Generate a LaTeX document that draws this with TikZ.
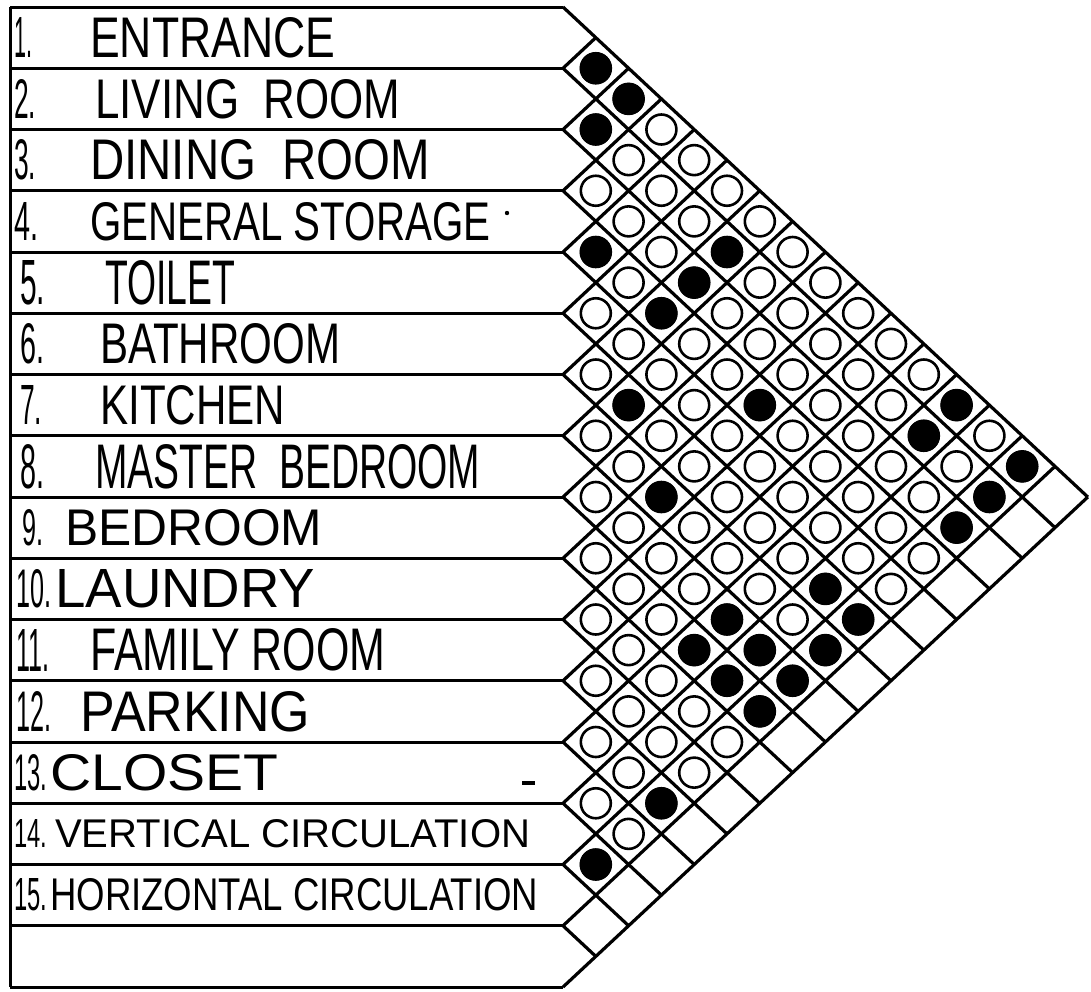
\documentclass[tikz,border=0pt]{standalone}
\usepackage{fontspec}
\setmainfont{Liberation Sans}
\usepackage{graphicx}

% squeeze a label into the box it takes in the drawing
\newcommand{\hand}[3]{\resizebox{#1pt}{#2pt}{#3}}

\begin{document}
\begin{tikzpicture}[x=1pt, y=-1pt, line join=round,
    rowline/.style={line width=3pt},
    gridline/.style={line width=3.2pt},
    opencell/.style={circle, draw, line width=2.6pt, minimum size=30pt, inner sep=0pt},
    fullcell/.style={circle, fill, minimum size=32pt, inner sep=0pt},
    lbl/.style={anchor=west, inner sep=0pt}]
    \useasboundingbox (0,0) rectangle (1091,991);

    \def\xo{563}
    \def\ytop{7}
    \def\rh{61.25}
    \def\cw{32.8}

    % row ends and the diagonal grid
    \foreach \k in {0,...,16} {
        \coordinate (w\k) at (10, \ytop+\k*\rh);
        \coordinate (s\k) at (\xo, \ytop+\k*\rh);
        \coordinate (dn\k) at (\xo+16*\cw-\k*\cw, \ytop+8*\rh+\k*\rh/2);
        \coordinate (up\k) at (\xo+\k*\cw, \ytop+\k*\rh/2);
        \draw[rowline] (w\k) -- (s\k);
        \draw[gridline] (up\k) -- (s\k) -- (dn\k);
    }
    \draw[rowline] (w0) -- (w16);

    % one cell for every pair of rooms
    \foreach \i in {1,...,14} {
        \pgfmathtruncatemacro{\ii}{\i+1}
        \foreach \j in {\ii,...,15}
            \node[opencell] (c\i-\j) at (\xo+\j*\cw-\i*\cw, \ytop+\i*\rh/2+\j*\rh/2-\rh/2) {};
    }

    % adjacent pairs
    \foreach \i/\j in {1/2, 1/3, 2/3, 4/5, 2/7, 3/7, 4/7, 2/13, 1/13, 6/8, 4/10, 7/10,
                       1/15, 2/15, 3/15, 6/14, 6/15, 8/13, 9/13, 8/14, 7/15, 9/14,
                       8/15, 9/15, 12/15, 14/15}
        \node[fullcell] at (c\i-\j) {};

    % room names
    \foreach \k/\nx/\nw/\tx/\tw/\th/\num/\name in {
        1/14/18/90/245/40/1./ENTRANCE,
        2/14/22/95/305/39/2./LIVING\ \ ROOM,
        3/14/22/90/340/40/3./DINING\ \ ROOM,
        4/14/24/90/400/38/4./GENERAL STORAGE,
        5/20/25/105/130/44/5./TOILET,
        6/20/24/100/240/40/6./BATHROOM,
        7/20/22/100/185/39/7./KITCHEN,
        8/20/24/95/385/44/8./MASTER\ \ BEDROOM,
        9/22/21/65/257/36/9./BEDROOM,
        10/16/35/55/260/38/10./LAUNDRY,
        11/16/33/90/295/42/11./FAMILY ROOM,
        12/16/35/80/230/40/12./PARKING,
        13/14/33/50/228/36/13./CLOSET,
        14/14/33/55/475/28/14./VERTICAL CIRCULATION,
        15/14/33/50/488/32/15./HORIZONTAL CIRCULATION} {
        \node[lbl] (n\k) at (\nx, \ytop+\k*\rh-\rh/2) {\hand{\nw}{\th}{\num}};
        \node[lbl] (t\k) at (\tx, \ytop+\k*\rh-\rh/2) {\hand{\tw}{\th}{\name}};
    }

    % stray pen marks
    \fill (507,213) circle (2.2pt);
    \fill (522,781) rectangle (535,785);
\end{tikzpicture}
\end{document}
